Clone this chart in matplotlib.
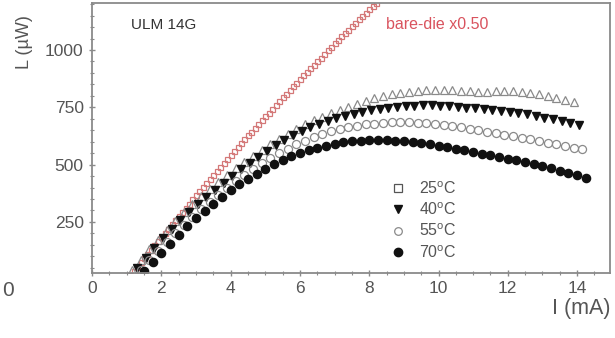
import matplotlib
matplotlib.use('Agg')
import matplotlib.pyplot as plt
from matplotlib.lines import Line2D
from matplotlib.ticker import MultipleLocator

plt.rcParams['font.family'] = ['Liberation Sans', 'DejaVu Sans']
plt.rcParams['mathtext.fontset'] = 'custom'
plt.rcParams['mathtext.rm'] = 'Liberation Sans'

# bare die (scaled x0.50)
I_bare = [1.0, 1.1, 1.2, 1.3, 1.4, 1.5, 1.6, 1.7, 1.8, 1.9, 2.0, 2.1, 2.2, 2.3, 2.4,
          2.5, 2.6, 2.7, 2.8, 2.9, 3.0, 3.1, 3.2, 3.3, 3.4, 3.5, 3.6, 3.7, 3.8, 3.9,
          4.0, 4.1, 4.2, 4.3, 4.4, 4.5, 4.6, 4.7, 4.8, 4.9, 5.0, 5.1, 5.2, 5.3, 5.4,
          5.5, 5.6, 5.7, 5.8, 5.9, 6.0, 6.1, 6.2, 6.3, 6.4, 6.5, 6.6, 6.7, 6.8, 6.9,
          7.0, 7.1, 7.2, 7.3, 7.4, 7.5, 7.6, 7.7, 7.8, 7.9, 8.0, 8.1, 8.2]
L_bare = [0, 18, 37, 55, 74, 92, 111, 129, 148, 166, 185, 203, 221, 240, 258,
          276, 294, 312, 330, 348, 366, 384, 402, 419, 437, 455, 472, 490, 507, 525,
          542, 559, 576, 593, 610, 627, 644, 661, 678, 694, 711, 727, 744, 760, 777,
          793, 809, 825, 841, 857, 873, 889, 905, 920, 936, 952, 967, 983, 998, 1014,
          1029, 1044, 1059, 1074, 1089, 1104, 1119, 1134, 1149, 1163, 1178, 1192, 1207]

I_25 = [0.9, 1.15, 1.4, 1.65, 1.9, 2.15, 2.4, 2.65, 2.9, 3.15, 3.4, 3.65, 3.9, 4.15,
        4.4, 4.65, 4.9, 5.15, 5.4, 5.65, 5.9, 6.15, 6.4, 6.65, 6.9, 7.15, 7.4, 7.65,
        7.9, 8.15, 8.4, 8.65, 8.9, 9.15, 9.4, 9.65, 9.9, 10.15, 10.4, 10.65, 10.9,
        11.15, 11.4, 11.65, 11.9, 12.15, 12.4, 12.65, 12.9, 13.15, 13.4, 13.65, 13.9]
L_25 = [0, 40, 85, 130, 172, 213, 253, 291, 327, 361, 394, 425, 455, 484,
        512, 539, 565, 590, 613, 635, 656, 675, 693, 709, 724, 740, 752, 764,
        776, 790, 800, 808, 814, 818, 822, 824, 826, 826, 826, 822, 820,
        818, 818, 820, 820, 820, 816, 812, 806, 798, 790, 782, 772]

I_40 = [1.05, 1.3, 1.55, 1.8, 2.05, 2.3, 2.55, 2.8, 3.05, 3.3, 3.55, 3.8, 4.05, 4.3,
        4.55, 4.8, 5.05, 5.3, 5.55, 5.8, 6.05, 6.3, 6.55, 6.8, 7.05, 7.3, 7.55, 7.8,
        8.05, 8.3, 8.55, 8.8, 9.05, 9.3, 9.55, 9.8, 10.05, 10.3, 10.55, 10.8, 11.05,
        11.3, 11.55, 11.8, 12.05, 12.3, 12.55, 12.8, 13.05, 13.3, 13.55, 13.8, 14.05]
L_40 = [5, 48, 92, 135, 178, 218, 257, 293, 327, 359, 390, 420, 450, 480,
        508, 535, 560, 585, 607, 628, 646, 662, 677, 690, 702, 712, 722, 730,
        737, 743, 748, 752, 755, 757, 758, 758, 757, 755, 752, 749, 746,
        743, 740, 736, 731, 725, 719, 712, 705, 698, 690, 682, 674]

I_55 = [1.15, 1.4, 1.65, 1.9, 2.15, 2.4, 2.65, 2.9, 3.15, 3.4, 3.65, 3.9, 4.15, 4.4,
        4.65, 4.9, 5.15, 5.4, 5.65, 5.9, 6.15, 6.4, 6.65, 6.9, 7.15, 7.4, 7.65, 7.9,
        8.15, 8.4, 8.65, 8.9, 9.15, 9.4, 9.65, 9.9, 10.15, 10.4, 10.65, 10.9, 11.15,
        11.4, 11.65, 11.9, 12.15, 12.4, 12.65, 12.9, 13.15, 13.4, 13.65, 13.9, 14.15]
L_55 = [5, 42, 82, 122, 162, 200, 237, 272, 305, 337, 368, 398, 427, 454,
        480, 505, 528, 550, 570, 588, 605, 620, 633, 645, 655, 663, 670, 675,
        679, 682, 684, 684, 684, 683, 680, 677, 672, 667, 662, 656, 650,
        644, 638, 631, 624, 617, 610, 603, 596, 589, 582, 574, 566]

I_70 = [1.25, 1.5, 1.75, 2.0, 2.25, 2.5, 2.75, 3.0, 3.25, 3.5, 3.75, 4.0, 4.25, 4.5,
        4.75, 5.0, 5.25, 5.5, 5.75, 6.0, 6.25, 6.5, 6.75, 7.0, 7.25, 7.5, 7.75, 8.0,
        8.25, 8.5, 8.75, 9.0, 9.25, 9.5, 9.75, 10.0, 10.25, 10.5, 10.75, 11.0, 11.25,
        11.5, 11.75, 12.0, 12.25, 12.5, 12.75, 13.0, 13.25, 13.5, 13.75, 14.0, 14.25]
L_70 = [0, 35, 75, 115, 155, 193, 230, 265, 298, 330, 360, 388, 414, 438,
        461, 482, 502, 520, 536, 550, 563, 574, 583, 591, 597, 602, 605, 607,
        608, 607, 605, 602, 598, 593, 588, 582, 576, 569, 562, 555, 548,
        541, 534, 526, 518, 510, 501, 492, 483, 474, 464, 454, 443]

labels = ['25$^{\\mathrm{o}}$C', '40$^{\\mathrm{o}}$C', '55$^{\\mathrm{o}}$C', '70$^{\\mathrm{o}}$C']

fig = plt.figure(figsize=(6.15, 3.38), dpi=100)
ax = fig.add_axes([0.1496, 0.1923, 0.8423, 0.7988])

gray = '#8a8a8a'
ax.plot(I_bare, L_bare, ls='none', marker='s', ms=3.6, mfc='none', mec='#d47878', mew=0.9)
ax.plot(I_25, L_25, ls='none', marker='^', ms=6.0, mfc='none', mec=gray, mew=0.9)
ax.plot(I_40, L_40, ls='none', marker='v', ms=6.0, mfc='#111111', mec='#111111')
ax.plot(I_55, L_55, ls='none', marker='o', ms=5.8, mfc='none', mec=gray, mew=0.9)
ax.plot(I_70, L_70, ls='none', marker='o', ms=5.9, mfc='#111111', mec='#111111')

ax.set_xlim(0, 14.95)
ax.set_ylim(27, 1205)
ax.xaxis.set_major_locator(MultipleLocator(2))
ax.xaxis.set_minor_locator(MultipleLocator(0.5))
ax.set_yticks([250, 500, 750, 1000])
ax.yaxis.set_minor_locator(MultipleLocator(50))
ax.tick_params(which='both', direction='inout', color=gray, labelcolor='#555555',
               labelsize=12.5)
ax.tick_params(which='major', length=5, width=1)
ax.tick_params(which='minor', length=3, width=0.8)
ax.tick_params(axis='x', pad=3.5)
for s in ax.spines.values():
    s.set_color(gray)
    s.set_linewidth(1.3)

ax.text(0.075, 0.905, 'ULM 14G', transform=ax.transAxes, fontsize=11, color='#333333')
ax.text(0.567, 0.905, 'bare-die x0.50', transform=ax.transAxes, fontsize=11.5, color='#d9535e')

handles = [Line2D([], [], ls='none', marker='s', ms=5.5, mfc='none', mec='#555555', mew=0.9),
           Line2D([], [], ls='none', marker='v', ms=5.5, mfc='#111111', mec='#111111'),
           Line2D([], [], ls='none', marker='o', ms=5.5, mfc='none', mec=gray, mew=0.9),
           Line2D([], [], ls='none', marker='o', ms=6, mfc='#111111', mec='#111111')]
leg = ax.legend(handles, labels, loc='center left', bbox_to_anchor=(0.56, 0.195),
                frameon=False, fontsize=11.5, handlelength=1.0, handletextpad=0.8,
                labelspacing=0.3, borderpad=0)
for t in leg.get_texts():
    t.set_color('#555555')

fig.text(0.992, 0.088, 'I (mA)', ha='right', va='center', fontsize=15.5, color='#555555')
fig.text(0.04, 0.875, 'L (\u00b5W)', rotation=90, ha='center', va='center',
         fontsize=13, color='#555555')
fig.text(0.003, 0.142, '0', ha='left', va='center', fontsize=15, color='#555555')

fig.savefig('out.png', dpi=100)
